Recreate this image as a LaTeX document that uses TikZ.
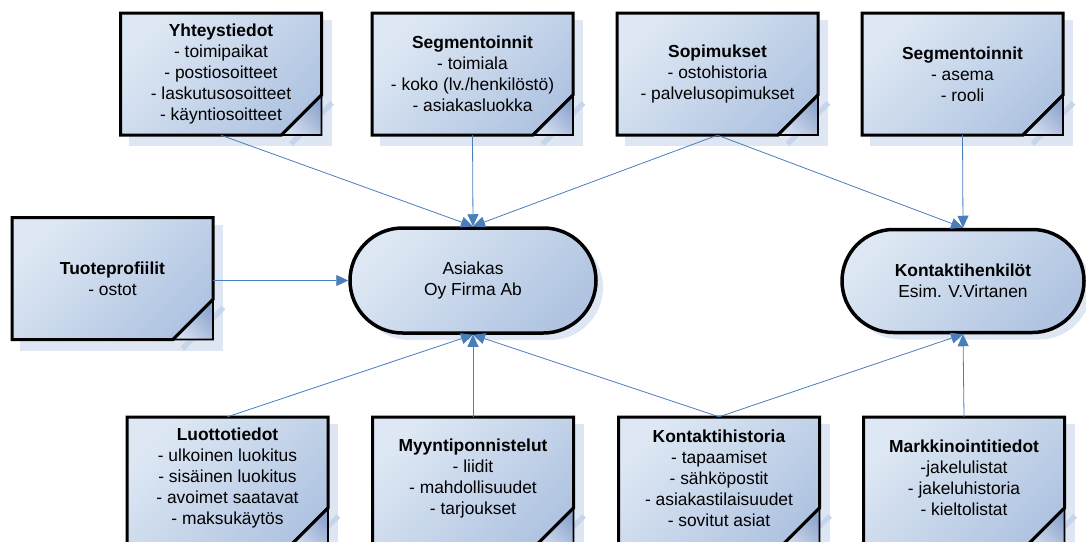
\documentclass[tikz,border=0pt]{standalone}
\usepackage{fontspec}
\setmainfont{Liberation Sans}
\usetikzlibrary{shapes.misc,arrows.meta,shadows}

\definecolor{boxlight}{RGB}{222,232,244}
\definecolor{boxdark}{RGB}{176,196,225}
\definecolor{foldlight}{RGB}{212,222,239}
\definecolor{folddark}{RGB}{140,164,206}
\definecolor{shadowc}{RGB}{221,230,242}
\definecolor{stripec}{RGB}{198,213,235}
\definecolor{linkc}{RGB}{74,126,187}

\tikzset{
  panel/.style={top color=boxlight, bottom color=boxdark, shading angle=45,
    draw=black, line width=3pt, line join=miter},
  foldpart/.style={top color=folddark, bottom color=foldlight, shading angle=-45,
    draw=black, line width=1.6pt, line join=miter},
  boxtext/.style={shape=rectangle, minimum width=201pt, minimum height=122pt,
    inner sep=0pt, align=center, font=\fontsize{17.4}{21}\selectfont},
  stadium/.style={shape=rounded rectangle, draw=black, line width=3.5pt,
    top color=boxlight, bottom color=boxdark, shading angle=45,
    align=center, font=\fontsize{17.4}{21}\selectfont, inner sep=0pt,
    drop shadow={shadow xshift=7pt, shadow yshift=-7pt, fill=shadowc, opacity=1}},
  link/.style={draw=linkc, line width=0.8pt,
    -{Triangle[length=12pt,width=11pt]}},
}

% information panel with dog-ear corner and soft shadow
% #1 name, #2 x, #3 y (centre), #4 extra depth of the panel below the text block, #5 text
\newcommand\infobox[5]{%
  \begin{scope}[shift={(#2,#3)}]
    \pgfmathsetmacro\bot{61+#4}
    \pgfmathsetmacro\cut{\bot-40}
    \fill[shadowc] (-92.5,-54) rectangle (110.5,\bot+11);
    \draw[stripec, line width=5pt] (70,\bot+9) -- (111,\cut+8);
    \path[panel] (-100.5,-61) -- (100.5,-61) -- (100.5,\cut) -- (60.5,\bot)
      -- (-100.5,\bot) -- cycle;
    \path[foldpart] (60.5,\bot) -- (100.5,\cut) -- (100.5,\bot) -- cycle;
    \draw[black, line width=3pt] (60.5,\bot) -- (100.5,\cut);
    \node[boxtext] (#1) at (0,0) {#5};
  \end{scope}}

\begin{document}
\begin{tikzpicture}[x=1pt, y=-1pt]
\useasboundingbox (0,0) rectangle (1086,541);

% upper row
\infobox{yht}{221}{74}{0}{\textbf{Yhteystiedot}\\- toimipaikat\\- postiosoitteet\\- laskutusosoitteet\\- käyntiosoitteet}
\infobox{segA}{472.5}{74}{0}{\textbf{Segmentoinnit}\\- toimiala\\- koko (lv./henkilöstö)\\- asiakasluokka}
\infobox{sop}{717.5}{74}{0}{\textbf{Sopimukset}\\- ostohistoria\\- palvelusopimukset}
\infobox{segB}{962.5}{74}{0}{\textbf{Segmentoinnit}\\- asema\\- rooli}

% middle row
\infobox{tuo}{112.5}{278.5}{0}{\textbf{Tuoteprofiilit}\\- ostot}
\node[stadium, minimum width=246pt, minimum height=105pt] (asi) at (473,280.5)
  {Asiakas\\Oy Firma Ab};
\node[stadium, minimum width=242pt, minimum height=103pt] (kh) at (963,281)
  {\textbf{Kontaktihenkilöt}\\Esim. V.Virtanen};

% lower row (panels run past the lower edge)
\infobox{luo}{227.5}{478}{9}{\textbf{Luottotiedot}\\- ulkoinen luokitus\\- sisäinen luokitus\\- avoimet saatavat\\- maksukäytös}
\infobox{myy}{473}{478}{9}{\textbf{Myyntiponnistelut}\\- liidit\\- mahdollisuudet\\- tarjoukset}
\infobox{kon}{719}{478}{9}{\textbf{Kontaktihistoria}\\- tapaamiset\\- sähköpostit\\- asiakastilaisuudet\\- sovitut asiat}
\infobox{mar}{964}{478}{9}{\textbf{Markkinointitiedot}\\-jakelulistat\\- jakeluhistoria\\- kieltolistat}

% connectors
\draw[link] (yht.south) -- (asi.north);
\draw[link] (segA.south) -- (asi.north);
\draw[link] (sop.south) -- (asi.north);
\draw[link] (sop.south) -- (kh.north);
\draw[link] (segB.south) -- (kh.north);
\draw[link] (tuo.east |- asi.west) -- (asi.west);
\draw[link] (luo.north) -- (asi.south);
\draw[link] (myy.north) -- (asi.south);
\draw[link] (kon.north) -- (asi.south);
\draw[link] (kon.north) -- (kh.south);
\draw[link] (mar.north) -- (kh.south);
\end{tikzpicture}
\end{document}
